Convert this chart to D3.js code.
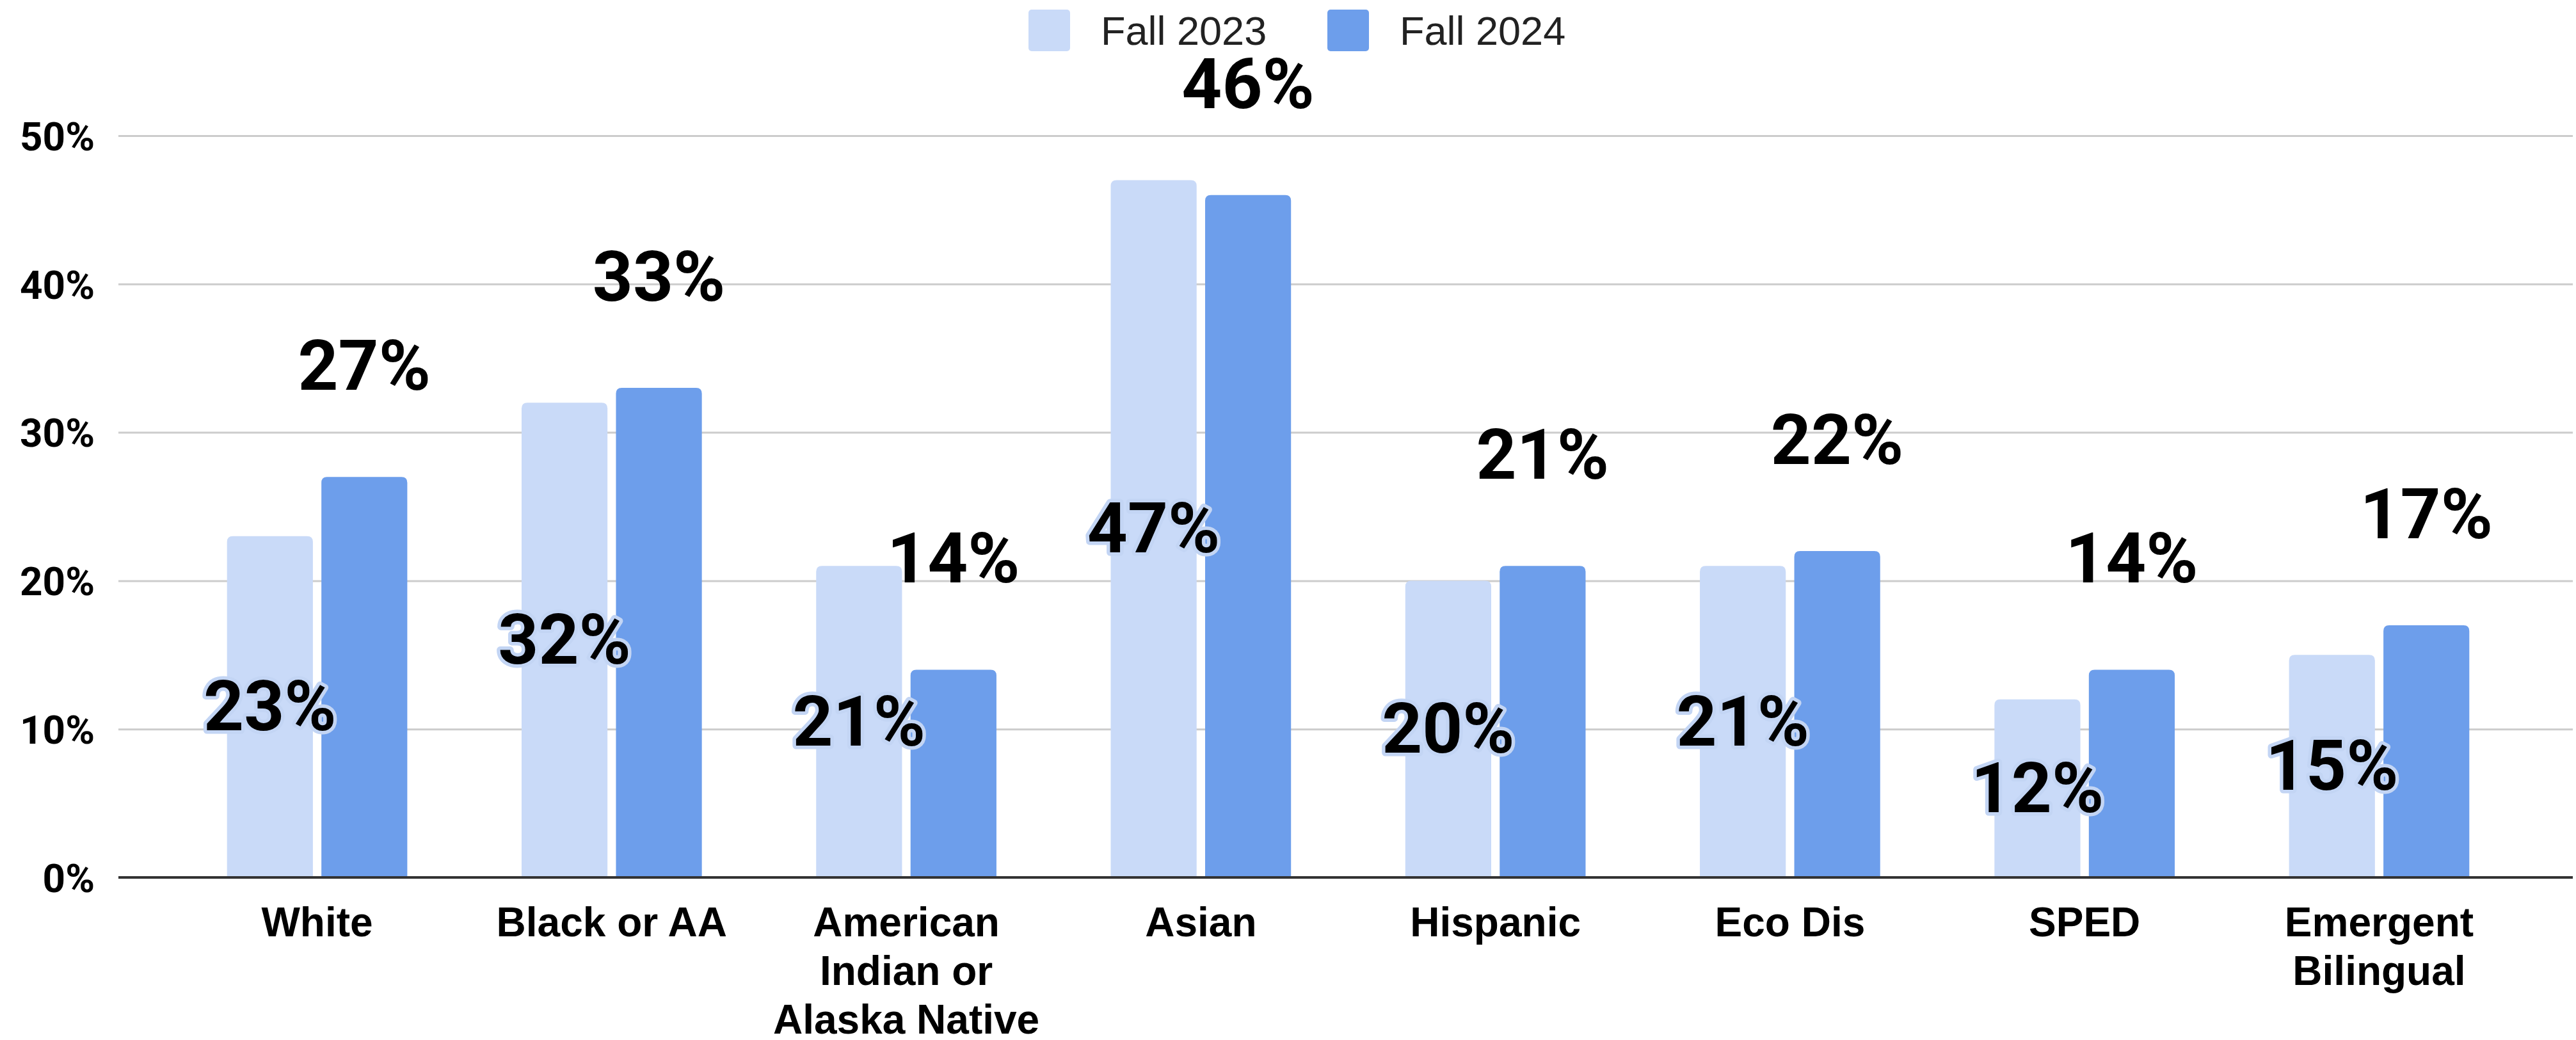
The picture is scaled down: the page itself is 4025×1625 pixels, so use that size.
<!DOCTYPE html>
<html>
<head>
<meta charset="utf-8">
<script src="https://cdn.jsdelivr.net/npm/d3@7"></script>
<style>
  html, body { margin: 0; padding: 0; background: #ffffff; }
  svg { display: block; }
</style>
</head>
<body>
<svg id="chart" width="4025" height="1625"></svg>
<script>
// ---- data ----
const categories = ["White", "Black or AA", "American Indian or Alaska Native", "Asian", "Hispanic", "Eco Dis", "SPED", "Emergent Bilingual"];
const categoryLabelLines = [["White"], ["Black or AA"], ["American", "Indian or", "Alaska Native"], ["Asian"], ["Hispanic"], ["Eco Dis"], ["SPED"], ["Emergent", "Bilingual"]];
const seriesNames = ["Fall 2023", "Fall 2024"];
const fall2023 = [23, 32, 21, 47, 20, 21, 12, 15];
const fall2024 = [27, 33, 14, 46, 21, 22, 14, 17];
const yTicks = [0, 10, 20, 30, 40, 50];
const colors = ["#c9daf8", "#6d9eeb"];

// ---- layout ----
const W = 4025, H = 1625;
const plotLeft = 185, plotRight = 4020, plotTop = 212, plotBottom = 1371;

const svg = d3.select("#chart");

const x0 = d3.scaleBand().domain(categories).range([189, 4024]).paddingInner(0.388).paddingOuter(0.36);
const x1 = d3.scaleBand().domain(seriesNames).range([0, x0.bandwidth()]).paddingInner(0.09);
const y = d3.scaleLinear().domain([0, 50]).range([plotBottom, plotTop]);

// gridlines + y labels
const yAxis = d3.axisLeft(y).tickValues(yTicks).tickFormat(d => d + "%")
  .tickSize(-(plotRight - plotLeft)).tickPadding(37);
const gy = svg.append("g").attr("transform", `translate(${plotLeft},0)`).call(yAxis);
gy.select(".domain").remove();
gy.selectAll(".tick line").attr("stroke", "#cccccc").attr("stroke-width", 3);
gy.selectAll(".tick text")
  .attr("font-family", "Roboto, 'Liberation Sans', Arial, sans-serif")
  .attr("font-weight", "bold").attr("font-size", 62).attr("fill", "#000")
  .attr("dy", "0.36em");

// bars
const rows = categories.map((c, i) => ({ cat: c, vals: [fall2023[i], fall2024[i]] }));
const groups = svg.append("g").selectAll("g").data(rows).join("g")
  .attr("transform", d => `translate(${x0(d.cat)},0)`);

function topRoundedRect(x, yTop, w, h, r) {
  r = Math.min(r, h, w / 2);
  return `M${x},${yTop + h}V${yTop + r}Q${x},${yTop} ${x + r},${yTop}H${x + w - r}Q${x + w},${yTop} ${x + w},${yTop + r}V${yTop + h}Z`;
}

groups.selectAll("path").data(d => d.vals.map((v, k) => ({ v, k }))).join("path")
  .attr("d", d => topRoundedRect(x1(seriesNames[d.k]), y(d.v), x1.bandwidth(), y(0) - y(d.v), 9))
  .attr("fill", d => colors[d.k]);

// baseline
svg.append("line").attr("x1", plotLeft).attr("x2", plotRight)
  .attr("y1", y(0)).attr("y2", y(0)).attr("stroke", "#333333").attr("stroke-width", 4);

// value labels
const labelFont = "Roboto, 'Liberation Sans', Arial, sans-serif";
// Fall 2023: centred inside bar with halo
groups.append("text")
  .attr("x", x1(seriesNames[0]) + x1.bandwidth() / 2)
  .attr("y", d => (y(d.vals[0]) + y(0)) / 2 + 37)
  .attr("text-anchor", "middle")
  .attr("font-family", labelFont).attr("font-weight", "bold").attr("font-size", 110)
  .attr("fill", "#000").attr("stroke", "#c3d5f4").attr("stroke-width", 11)
  .attr("stroke-linejoin", "round").attr("paint-order", "stroke")
  .text(d => d.vals[0] + "%");
// Fall 2024: above bar
groups.append("text")
  .attr("x", x1(seriesNames[1]) + x1.bandwidth() / 2)
  .attr("y", d => y(d.vals[1]) - 136)
  .attr("text-anchor", "middle")
  .attr("font-family", labelFont).attr("font-weight", "bold").attr("font-size", 110)
  .attr("fill", "#000")
  .text(d => d.vals[1] + "%");

// x labels
const xl = svg.append("g").selectAll("text").data(categories).join("text")
  .attr("x", d => x0(d) + x0.bandwidth() / 2)
  .attr("y", 1463)
  .attr("text-anchor", "middle")
  .attr("font-family", "'Liberation Sans', Arial, sans-serif")
  .attr("font-weight", "bold").attr("font-size", 64).attr("fill", "#000");
xl.selectAll("tspan").data((d, i) => categoryLabelLines[i]).join("tspan")
  .attr("x", function () { return d3.select(this.parentNode).attr("x"); })
  .attr("dy", (d, j) => j === 0 ? 0 : 76)
  .text(d => d);

// legend
const legendX = [1607, 2074];
const legend = svg.append("g").selectAll("g").data(seriesNames).join("g")
  .attr("transform", (d, i) => `translate(${legendX[i]},0)`);
legend.append("rect").attr("x", 0).attr("y", 15).attr("width", 65).attr("height", 65)
  .attr("rx", 5).attr("fill", (d, i) => colors[i]);
legend.append("text").attr("x", 113).attr("y", 70)
  .attr("font-family", "'Liberation Sans', Arial, sans-serif").attr("font-size", 63)
  .attr("fill", "#222").text(d => d);
</script>
</body>
</html>
